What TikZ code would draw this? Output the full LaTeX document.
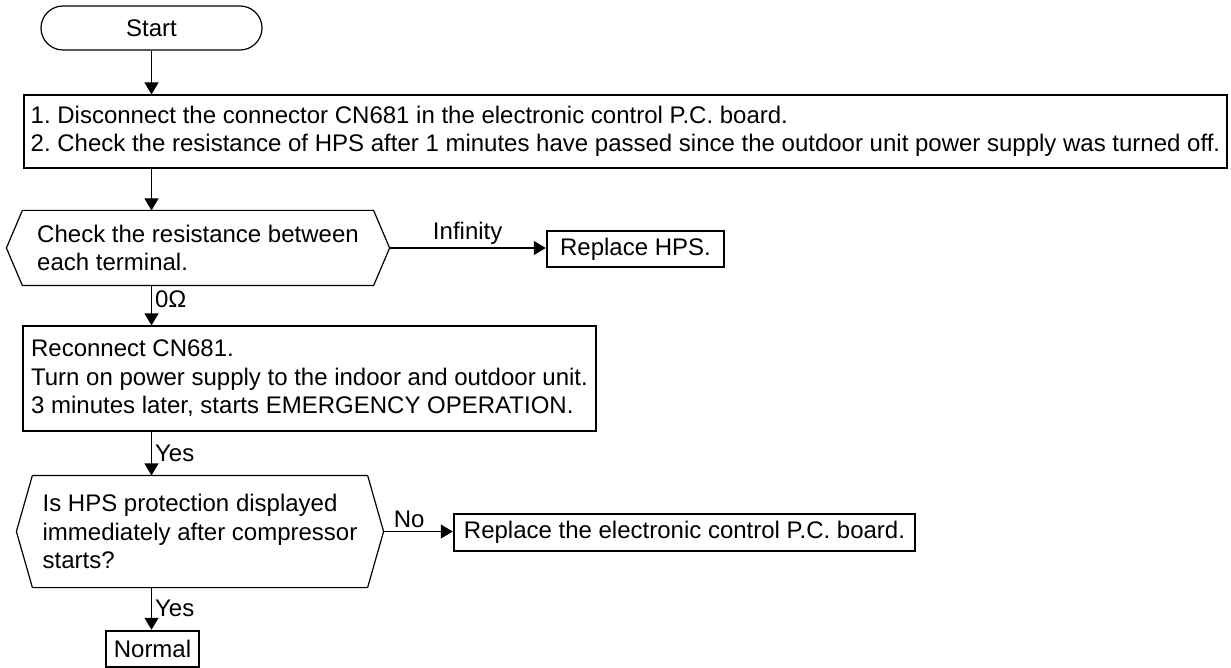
\documentclass[tikz,border=0pt]{standalone}
\usepackage{fontspec}
\setmainfont{Liberation Sans}
\usetikzlibrary{arrows.meta,positioning,calc}
\newcommand{\decframe}[1]{%
  \draw ([xshift=-16pt]#1.west) -- (#1.north west) -- (#1.north east)
    -- ([xshift=16pt]#1.east) -- (#1.south east) -- (#1.south west) -- cycle;}

\begin{document}
\frenchspacing
\begin{tikzpicture}[x=1pt,y=-1pt,font=\fontsize{24}{28.5}\selectfont,line width=1.2pt,
  term/.style={draw,rounded corners=22pt,minimum width=221pt,minimum height=44pt},
  box/.style={draw,align=left,inner sep=0pt},
  dec/.style={align=left,inner sep=0pt},
  res/.style={draw,line width=2.5pt,inner sep=0pt},
  arr/.style={-{Triangle[length=12pt,width=14pt]}},
  lbl/.style={inner sep=3pt}]
  \useasboundingbox (0,0) rectangle (1231,668);
  \node[term] (start) at (151.5,28) {Start};
  \node[box,minimum width=1203pt,minimum height=73pt] (steps) at (625.5,131.5)
    {1. Disconnect the connector CN681 in the electronic control P.C. board.\\
     2. Check the resistance of HPS after 1 minutes have passed since the outdoor unit power supply was turned off.};
  \node[dec,minimum width=350pt,minimum height=74pt] (chk) at (198,248)
    {Check the resistance between\\each terminal.};
  \node[res,minimum width=177pt,minimum height=36pt] (hps) at (635.5,249) {Replace HPS.};
  \node[box,minimum width=573pt,minimum height=105pt] (recon) at (309.5,378.5)
    {Reconnect CN681.\\
     Turn on power supply to the indoor and outdoor unit.\\
     3 minutes later, starts EMERGENCY OPERATION.};
  \node[dec,minimum width=334pt,minimum height=111pt] (prot) at (200,531.5)
    {Is HPS protection displayed\\immediately after compressor\\starts?};
  \node[res,minimum width=461pt,minimum height=37pt] (board) at (684.5,532.5)
    {Replace the electronic control P.C. board.};
  \node[res,minimum width=93pt,minimum height=36pt] (normal) at (152.5,649) {Normal};
  \decframe{chk}
  \decframe{prot}
  \coordinate (chk-tip) at ([xshift=16pt]chk.east);
  \coordinate (prot-tip) at ([xshift=16pt]prot.east);
  % main column
  \draw[arr] (start) -- (start |- steps.north);
  \draw[arr] (steps.south -| start) -- (start |- chk.north);
  \draw[arr] (chk.south -| start) -- node[lbl,right,pos=.35] {0Ω} (recon.north -| start);
  \draw[arr] (recon.south -| start) -- node[lbl,right] {Yes} (prot.north -| start);
  \draw[arr] (prot.south -| start) -- node[lbl,right] {Yes} (normal.north -| start);
  % side exits
  \draw[arr] (chk-tip) -- node[lbl,above] {Infinity} (chk-tip -| hps.west);
  \draw[arr] (prot-tip) -- node[lbl,above,pos=.37] {No} (prot-tip -| board.west);
\end{tikzpicture}
\end{document}
